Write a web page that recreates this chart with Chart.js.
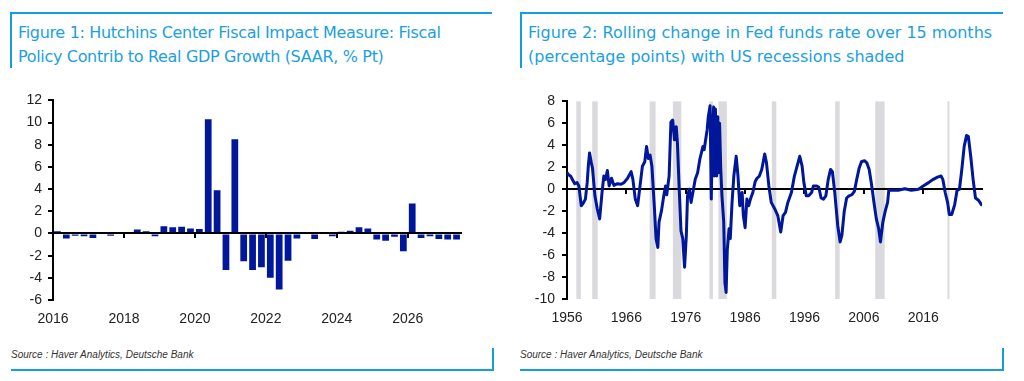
<!DOCTYPE html>
<html><head><meta charset="utf-8">
<script src="https://cdn.jsdelivr.net/npm/chart.js@4/dist/chart.umd.min.js"></script>
<style>
body{margin:0;width:1024px;height:381px;background:#fff;position:relative;overflow:hidden;font-family:"Liberation Sans",Arial,sans-serif}
.ln{position:absolute;background:#139de2}
.title{position:absolute;font-family:"DejaVu Sans",sans-serif;font-size:16px;line-height:24px;color:#1b9fe0;white-space:nowrap}
.src{position:absolute;font-family:"Liberation Sans",Arial,sans-serif;font-style:italic;font-size:10px;color:#333;white-space:nowrap}
canvas{position:absolute}
</style></head><body>
<div class="ln" style="left:10px;top:12px;width:482px;height:2px"></div>
<div class="ln" style="left:10px;top:12px;width:2px;height:56px"></div>
<div class="title" style="left:18px;top:21px;letter-spacing:-0.33px">Figure 1: Hutchins Center Fiscal Impact Measure: Fiscal<br>Policy Contrib to Real GDP Growth (SAAR, % Pt)</div>
<canvas id="c1" width="480" height="260" style="left:0;top:86px"></canvas>
<div class="src" style="left:11px;top:349px">Source : Haver Analytics, Deutsche Bank</div>
<div class="ln" style="left:11px;top:369px;width:483px;height:2px"></div>
<div class="ln" style="left:492px;top:348px;width:2px;height:23px"></div>

<div class="ln" style="left:520px;top:12px;width:483px;height:2px"></div>
<div class="ln" style="left:520px;top:12px;width:2px;height:56px"></div>
<div class="title" style="left:528px;top:21px">Figure 2: Rolling change in Fed funds rate over 15 months<br>(percentage points) with US recessions shaded</div>
<canvas id="c2" width="490" height="260" style="left:512px;top:86px"></canvas>
<div class="src" style="left:520px;top:349px">Source : Haver Analytics, Deutsche Bank</div>
<div class="ln" style="left:520px;top:369px;width:484px;height:2px"></div>
<div class="ln" style="left:1002px;top:348px;width:2px;height:23px"></div>

<script>
// ---------- Figure 1 data ----------
const quarters = [
 '2016Q1','2016Q2','2016Q3','2016Q4','2017Q1','2017Q2','2017Q3','2017Q4',
 '2018Q1','2018Q2','2018Q3','2018Q4','2019Q1','2019Q2','2019Q3','2019Q4',
 '2020Q1','2020Q2','2020Q3','2020Q4','2021Q1','2021Q2','2021Q3','2021Q4',
 '2022Q1','2022Q2','2022Q3','2022Q4','2023Q1','2023Q2','2023Q3','2023Q4',
 '2024Q1','2024Q2','2024Q3','2024Q4','2025Q1','2025Q2','2025Q3','2025Q4',
 '2026Q1','2026Q2','2026Q3','2026Q4','2027Q1','2027Q2'];
const fiscalImpact = [
 0.2,-0.45,-0.2,-0.25,-0.4,0.0,-0.2,0.05,
 -0.1,0.35,0.2,-0.25,0.65,0.55,0.6,0.45,
 0.4,10.3,3.9,-3.3,8.5,-2.5,-3.3,-3.05,
 -4.0,-5.05,-2.45,-0.45,-0.1,-0.5,0.0,-0.25,
 0.15,0.25,0.55,0.45,-0.55,-0.65,-0.3,-1.6,
 2.7,-0.4,-0.25,-0.5,-0.55,-0.55];
const fiscalTickYears = [2016,2018,2020,2022,2024,2026];

// ---------- Figure 2 data ----------
const fedYears = [
 1956.0,1956.3,1956.6,1957.0,1957.3,1957.7,1958.0,1958.2,1958.4,1958.7,1959.1,1959.4,1959.6,1959.8,
 1960.1,1960.3,1960.7,1961.1,1961.5,1961.7,1961.9,1962.2,1962.5,1962.8,1963.1,1963.5,1963.9,1964.5,
 1965.1,1965.6,1966.2,1966.8,1967.1,1967.5,1967.9,1968.3,1968.7,1969.1,1969.4,1969.7,1970.0,1970.3,
 1970.7,1971.0,1971.3,1971.5,1971.9,1972.3,1972.6,1972.8,1973.2,1973.5,1973.8,1974.1,1974.4,1974.6,
 1974.9,1975.2,1975.5,1975.8,1976.1,1976.3,1976.6,1976.9,1977.2,1977.6,1978.0,1978.4,1978.9,1979.1,
 1979.6,1979.8,1980.1,1980.3,1980.5,1980.7,1980.8,1981.0,1981.2,1981.4,1981.5,1981.7,1981.9,1982.1,
 1982.4,1982.6,1982.8,1983.0,1983.3,1983.5,1983.8,1984.1,1984.5,1984.8,1985.1,1985.5,1985.7,1986.0,
 1986.3,1986.6,1986.9,1987.3,1987.7,1988.0,1988.4,1988.8,1989.3,1989.6,1990.0,1990.4,1991.0,1991.5,
 1992.0,1992.4,1992.8,1993.2,1993.8,1994.3,1994.8,1995.2,1995.6,1995.9,1996.3,1996.7,1997.2,1997.5,
 1998.0,1998.4,1998.8,1999.2,1999.6,2000.0,2000.4,2000.7,2001.1,2001.6,2002.0,2002.3,2002.7,2003.1,
 2003.5,2004.0,2004.4,2004.8,2005.2,2005.6,2006.1,2006.5,2006.9,2007.3,2007.7,2008.1,2008.5,2008.8,
 2009.2,2009.6,2010.0,2010.2,2010.7,2011.8,2012.9,2014.0,2015.2,2016.0,2016.9,2017.7,2018.4,2019.0,
 2019.3,2019.7,2020.1,2020.4,2020.8,2021.3,2021.7,2022.1,2022.5,2022.9,2023.3,2023.6,2024.0,2024.4,
 2024.8,2025.3,2025.8];
const fedChange = [
 1.5,1.3,1.2,0.8,0.5,0.6,0.3,-0.6,-1.5,-1.3,-0.9,0.6,2.2,3.3,
 2.4,1.9,-0.6,-1.8,-2.7,-1.5,-0.3,1.2,0.9,1.7,0.3,1.0,0.35,0.5,
 0.45,0.6,1.0,1.6,0.9,-0.9,-1.5,0.3,2.1,2.5,3.9,2.8,3.1,2.1,
 -1.5,-4.5,-5.3,-3.0,-2.0,-0.6,0.3,-0.5,1.2,6.1,6.3,4.5,5.7,4.2,
 0.0,-3.8,-4.5,-7.1,-4.2,-0.6,0.0,-1.2,-0.3,0.9,1.5,2.8,3.9,3.6,
 5.4,6.6,7.6,-0.9,5.4,7.5,1.2,7.3,1.2,6.6,1.5,6.0,1.8,-0.6,
 -3.0,-8.5,-9.4,-5.5,-3.6,-4.5,-1.2,1.2,3.0,1.2,-1.5,-0.3,-2.4,-3.5,
 -0.9,-1.5,-0.9,-0.3,0.7,1.0,1.2,1.8,3.2,2.4,0.3,-1.2,-1.8,-2.4,
 -3.9,-2.4,-2.1,-1.2,-0.3,1.2,2.2,3.0,2.1,0.6,-0.6,-0.6,-0.3,0.3,
 0.3,0.2,-0.8,-0.9,-0.6,0.9,1.8,1.6,-0.3,-3.3,-4.8,-4.2,-2.0,-0.8,
 -0.6,-0.5,-0.2,0.9,1.9,2.5,2.6,2.4,1.8,0.4,-1.2,-2.7,-3.6,-4.8,
 -3.0,-2.0,-1.2,-0.1,-0.1,-0.1,0.05,-0.1,0.0,0.3,0.6,0.9,1.1,1.2,
 0.9,-0.3,-1.2,-2.3,-2.3,-1.4,-0.1,0.0,1.8,3.9,4.9,4.8,3.0,0.9,
 -0.8,-1.0,-1.4];
const fedTickYears = [1956,1966,1976,1986,1996,2006,2016];
const recessionStart = [1957.58,1960.25,1969.92,1973.83,1980.0,1981.5,1990.5,2001.17,2007.92,2020.08];
const recessionEnd   = [1958.33,1961.17,1970.92,1975.25,1980.58,1982.92,1991.25,2001.92,2009.5,2020.36];

// ---------- shared styling ----------
const BLUE = '#00179b';
const tickFont = {family:'Liberation Sans', size:14};
const tickColor = '#222';
Chart.defaults.font.family = 'Liberation Sans';

function qToX(q){ return parseInt(q.slice(0,4),10) + (parseInt(q.slice(5),10)-1)/4 + 0.125; }
function setTicks(arr){ return s => { s.ticks = arr.map(v => ({value:v})); }; }

function xAxes(min, max, tickYears, xHeight, zeroZ){
  return {
    x:{type:'linear', position:'bottom', min, max, offset:false,
       afterBuildTicks:setTicks(tickYears),
       ticks:{autoSkip:false, maxRotation:0, padding:3, color:tickColor, font:tickFont, callback:v=>String(v)},
       grid:{display:false, offset:false}, border:{display:false},
       afterFit:s=>{s.height = xHeight;}},
    x0:{type:'linear', position:{y:0}, min, max, offset:false,
       afterBuildTicks:setTicks(tickYears),
       ticks:{display:false},
       grid:{display:true, drawOnChartArea:false, drawTicks:true, tickLength:4, color:'#000', lineWidth:2, offset:false},
       border:{display:true, color:'#000', width:2, z:zeroZ},
       afterFit:s=>{s.height = 0;}}
  };
}
function yAxis(min, max, width, pad){
  return {min, max,
    ticks:{stepSize:2, padding:pad, color:tickColor, font:tickFont},
    grid:{drawOnChartArea:false, drawTicks:true, tickLength:5, color:'#000', lineWidth:2},
    border:{display:true, color:'#000', width:2},
    afterFit:s=>{s.width = width;}};
}

// ---------- Figure 1 ----------
new Chart(document.getElementById('c1'), {
  type:'bar',
  data:{datasets:[{
    data: quarters.map((q,i)=>({x:qToX(q), y:fiscalImpact[i]})),
    backgroundColor:BLUE, borderWidth:0, barPercentage:0.76, categoryPercentage:1
  }]},
  options:{
    responsive:false, animation:false, events:[],
    layout:{padding:{left:0, right:19, top:14, bottom:21}},
    plugins:{legend:{display:false}, tooltip:{enabled:false}},
    scales:Object.assign(xAxes(2016, 2027.5, fiscalTickYears, 25, 1), {y:yAxis(-6, 12, 53, 6)})
  }
});

// ---------- Figure 2 ----------
const recessionPlugin = {
  id:'recessions',
  beforeDraw(chart){
    const {ctx, chartArea:a, scales:{x}} = chart;
    ctx.save();
    ctx.fillStyle = '#d9d9de';
    recessionStart.forEach((s,i)=>{
      const x1 = x.getPixelForValue(s), x2 = x.getPixelForValue(recessionEnd[i]);
      ctx.fillRect(x1, a.top, Math.max(2, x2-x1), a.bottom - a.top);
    });
    ctx.restore();
  }
};
new Chart(document.getElementById('c2'), {
  type:'line',
  data:{datasets:[{
    data: fedYears.map((yr,i)=>({x:yr, y:fedChange[i]})),
    borderColor:BLUE, borderWidth:3, pointRadius:0, tension:0, fill:false,
    borderJoinStyle:'round', borderCapStyle:'round'
  }]},
  options:{
    responsive:false, animation:false, events:[],
    layout:{padding:{left:0, right:20, top:14, bottom:21}},
    plugins:{legend:{display:false}, tooltip:{enabled:false}},
    scales:Object.assign(xAxes(1956, 2025.9, fedTickYears, 26, 0), {y:yAxis(-10, 8, 55, 7)})
  },
  plugins:[recessionPlugin]
});
</script>
</body></html>
